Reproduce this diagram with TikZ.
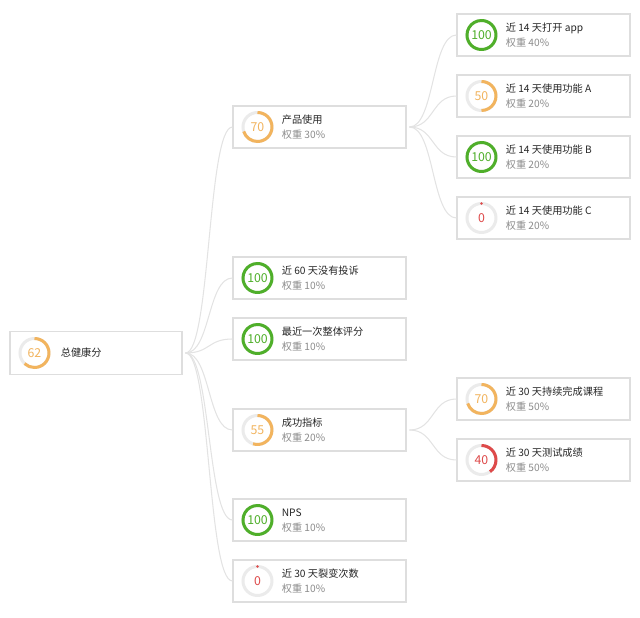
\documentclass[tikz,border=0pt]{standalone}
\usepackage{fontspec}
\setmainfont{Noto Sans CJK SC}
\usetikzlibrary{calc}

\definecolor{okgreen}{HTML}{4FAF2A}
\definecolor{midorange}{HTML}{F2B45E}
\definecolor{badred}{HTML}{DE4A4A}
\definecolor{ringgray}{HTML}{EBEBEB}
\definecolor{cardline}{HTML}{DEDEDE}
\definecolor{linkgray}{HTML}{E3E3E3}
\definecolor{inkgray}{HTML}{8C8C8C}

\tikzset{
  card/.style={draw=cardline, line width=0.6pt, fill=white, inner sep=0pt,
    minimum width=3.46cm, minimum height=0.84cm},
  ring/.style={draw=ringgray, line width=1.7pt},
  meter/.style={line width=1.7pt},
  link/.style={draw=linkgray, line width=0.6pt},
  val/.style={inner sep=0pt, font=\fontsize{7}{7}\selectfont},
  title/.style={anchor=west, inner sep=0pt, text=black!85, font=\fontsize{5.8}{6}\selectfont},
  weight/.style={anchor=west, inner sep=0pt, text=inkgray, font=\fontsize{5.8}{6}\selectfont}
}

% name, x, y, value, colour, title, weight
\newcommand{\metric}[7]{%
  \node[card] (#1) at (#2,#3) {};
  \coordinate (#1-c) at ($(#1.west)+(25,0)$);
  \draw[ring] (#1-c) circle (14.5);
  \ifnum#4>0
    \draw[#5, meter] ($(#1-c)+(90:14.5)$) arc[start angle=90, delta angle=-3.6*#4, radius=14.5];
  \else
    \fill[#5] ($(#1-c)+(90:14.5)$) circle (1.3);
  \fi
  \node[val, text=#5] (#1-val) at (#1-c) {#4};
  \node[title] (#1-title) at ($(#1.west)+(49,7)$) {#6};
  \node[weight] (#1-wt) at ($(#1.west)+(49,-8)$) {权重 #7};
}

\begin{document}
\begin{tikzpicture}[x=0.02cm, y=0.02cm]
  \useasboundingbox (0,0) rectangle (640,-618);

  % Root score
  \node[card, minimum width=3.44cm, minimum height=0.86cm] (root) at (96,-353) {};
  \coordinate (root-c) at ($(root.west)+(25,0)$);
  \draw[ring] (root-c) circle (14.5);
  \draw[midorange, meter] ($(root-c)+(90:14.5)$) arc[start angle=90, delta angle=-3.6*62, radius=14.5];
  \node[val, text=midorange] (root-val) at (root-c) {62};
  \node[title] (root-title) at ($(root.west)+(51,0)$) {总健康分};

  % First level
  \metric{use}{319.5}{-127}{70}{midorange}{产品使用}{30\%}
  \metric{complaint}{319.5}{-278}{100}{okgreen}{近 60 天没有投诉}{10\%}
  \metric{rating}{319.5}{-339}{100}{okgreen}{最近一次整体评分}{10\%}
  \metric{success}{319.5}{-430}{55}{midorange}{成功指标}{20\%}
  \metric{nps}{319.5}{-520}{100}{okgreen}{NPS}{10\%}
  \metric{viral}{319.5}{-581}{0}{badred}{近 30 天裂变次数}{10\%}

  % Second level
  \metric{open}{543.5}{-35}{100}{okgreen}{近 14 天打开 app}{40\%}
  \metric{funcA}{543.5}{-96}{50}{midorange}{近 14 天使用功能 A}{20\%}
  \metric{funcB}{543.5}{-157}{100}{okgreen}{近 14 天使用功能 B}{20\%}
  \metric{funcC}{543.5}{-218}{0}{badred}{近 14 天使用功能 C}{20\%}
  \metric{course}{543.5}{-399}{70}{midorange}{近 30 天持续完成课程}{50\%}
  \metric{test}{543.5}{-460}{40}{badred}{近 30 天测试成绩}{50\%}

  % Connectors
  \foreach \kid in {use,complaint,rating,success,nps,viral}
    \draw[link] ($(root.east)+(3,0)$) .. controls +(25,0) and +(-25,0) .. (\kid.west);
  \foreach \kid in {open,funcA,funcB,funcC}
    \draw[link] ($(use.east)+(3,0)$) .. controls +(25,0) and +(-25,0) .. (\kid.west);
  \foreach \kid in {course,test}
    \draw[link] ($(success.east)+(3,0)$) .. controls +(25,0) and +(-25,0) .. (\kid.west);
\end{tikzpicture}
\end{document}
